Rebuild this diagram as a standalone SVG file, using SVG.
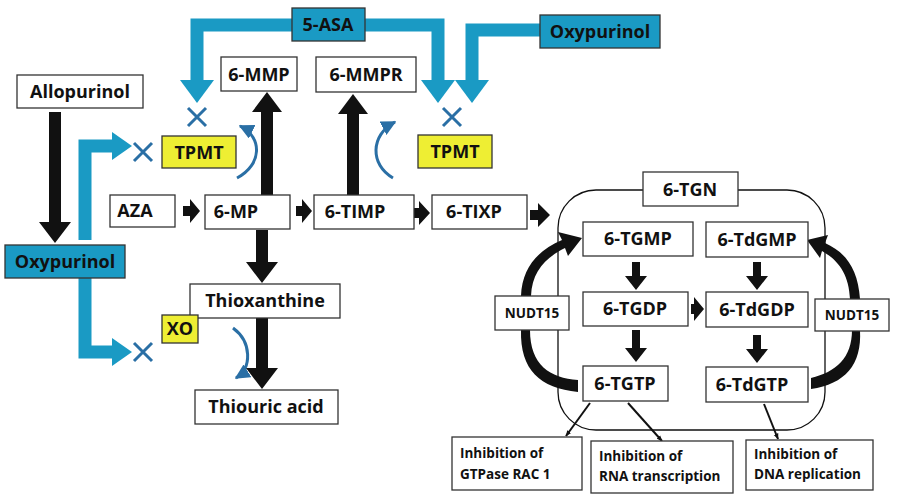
<svg xmlns="http://www.w3.org/2000/svg" width="900" height="495" viewBox="0 0 900 495">
<style>
.n rect{fill:#fff;stroke:#333;stroke-width:1.3}
.b rect{fill:#1a9ac4;stroke:#333;stroke-width:1.3}
.y rect{fill:#eeee33;stroke:#333;stroke-width:1.3}
text{font-family:"Open Sans","DejaVu Sans",sans-serif;font-weight:bold;fill:#111;font-size:18px}
.s{font-size:13.5px}
.blue{fill:none;stroke:#1a9ac4;stroke-width:13}
.x{stroke:#2a6fa5;stroke-width:3}
.arc{fill:none;stroke:#2a6fa5;stroke-width:3}
.thin{stroke:#111;stroke-width:2;fill:none}
</style>
<defs>
<marker id="ah" viewBox="0 0 10 10" refX="9" refY="5" markerWidth="5" markerHeight="5" orient="auto"><path d="M0,0L10,5L0,10z" fill="#2a6fa5"/></marker>
<marker id="th" viewBox="0 0 10 10" refX="9" refY="5" markerWidth="6" markerHeight="6" orient="auto" markerUnits="userSpaceOnUse"><path d="M0,1L10,5L0,9z" fill="#111"/></marker>
</defs>
<g id="connectors">
<path class="blue" d="M292,25H197V80"/><path d="M180,80H214L197,103z" fill="#1a9ac4"/>
<path class="blue" d="M365,25H438V80"/><path d="M421,80H455L438,103z" fill="#1a9ac4"/>
<path class="blue" d="M540,30H472V80"/><path d="M455,80H489L472,103z" fill="#1a9ac4"/>
<path class="blue" d="M85,240V146H112"/><path d="M112,132V160L132,146z" fill="#1a9ac4"/>
<path class="blue" d="M85,278V352H112"/><path d="M112,338V366L132,352z" fill="#1a9ac4"/>
<path class="x" d="M188,108L206,126M206,108L188,126"/>
<path class="x" d="M443,108L461,126M461,108L443,126"/>
<path class="x" d="M134,143L152,161M152,143L134,161"/>
<path class="x" d="M134,343L152,361M152,343L134,361"/>
<path class="arc" d="M237,178C262,165 263,137 240,126" marker-end="url(#ah)"/>
<path class="arc" d="M393,178C370,165 370,135 395,122" marker-end="url(#ah)"/>
<path class="arc" d="M233,328C252,342 252,368 236,378" marker-end="url(#ah)"/>
<path d="M49,112H61V222H71L55,243L39,222H49z" fill="#111"/>
<path d="M261,195V112H252L267,92L282,112H273V195z" fill="#111"/>
<path d="M347,195V114H338L353,94L368,114H359V195z" fill="#111"/>
<path d="M256,230H268V262H278L262,283L246,262H256z" fill="#111"/>
<path d="M256,318H268V368H278L262,389L246,368H256z" fill="#111"/>
<path d="M183,206H190V199L200,211L190,223V216H183z" fill="#111"/>
<path d="M296,206H302V199L312,211L302,223V216H296z" fill="#111"/>
<path d="M412,208H419V201L430,213L419,225V218H412z" fill="#111"/>
<path d="M530,210H538V203L550,215L538,227V220H530z" fill="#111"/>
<path d="M632,262H640V276H647L636,290L625,276H632z" fill="#111"/>
<path d="M632,330H640V348H647L636,362L625,348H632z" fill="#111"/>
<path d="M753,262H761V276H768L757,290L746,276H753z" fill="#111"/>
<path d="M753,335H761V349H768L757,363L746,349H753z" fill="#111"/>
<path d="M691,304H694V297L704,309L694,321V314H691z" fill="#111"/>
<path d="M578,392C540,388 520,370 521,330 L530,330C530,365 550,378 578,380z" fill="#111"/>
<path d="M521,296C522,268 538,250 562,240L558,232L582,238L568,256L565,248C545,258 532,272 531,296z" fill="#111"/>
<path d="M811,389C845,384 862,365 860,330L852,330C852,358 836,372 811,378z" fill="#111"/>
<path d="M860,299C858,268 845,252 825,243L828,235L807,240L820,258L822,251C838,260 849,274 850,299z" fill="#111"/>
<path class="thin" d="M590,403L566,436" marker-end="url(#th)"/>
<path class="thin" d="M628,403L662,441" marker-end="url(#th)"/>
<path class="thin" d="M764,404L778,439" marker-end="url(#th)"/>
</g>
<g id="tgn"><rect x="558" y="190" width="267" height="240" rx="38" fill="none" stroke="#111" stroke-width="1.3"/></g>
<g id="tgn-label" class="n"><rect x="643" y="172" width="95" height="34"/><text x="690" y="196" text-anchor="middle">6-TGN</text></g>
<g id="asa" class="b"><rect x="292" y="8" width="73" height="33"/><text x="328" y="31" text-anchor="middle">5-ASA</text></g>
<g id="oxy-top" class="b"><rect x="540" y="15" width="120" height="33"/><text x="600" y="38" text-anchor="middle">Oxypurinol</text></g>
<g id="allo" class="n"><rect x="17" y="75" width="126" height="33"/><text x="80" y="98" text-anchor="middle">Allopurinol</text></g>
<g id="oxy-left" class="b"><rect x="5" y="245" width="120" height="33"/><text x="65" y="268" text-anchor="middle">Oxypurinol</text></g>
<g id="mmp" class="n"><rect x="221" y="57" width="76" height="34"/><text x="259" y="81" text-anchor="middle">6-MMP</text></g>
<g id="mmpr" class="n"><rect x="316" y="57" width="100" height="35"/><text x="366" y="81" text-anchor="middle">6-MMPR</text></g>
<g id="tpmt1" class="y"><rect x="162" y="136" width="74" height="32"/><text x="199" y="159" text-anchor="middle">TPMT</text></g>
<g id="tpmt2" class="y"><rect x="418" y="135" width="74" height="33"/><text x="455" y="158" text-anchor="middle">TPMT</text></g>
<g id="aza" class="n"><rect x="110" y="195" width="65" height="32"/><text x="135" y="217" text-anchor="middle">AZA</text></g>
<g id="mp" class="n"><rect x="205" y="195" width="85" height="34"/><text x="236" y="218" text-anchor="middle">6-MP</text></g>
<g id="timp" class="n"><rect x="314" y="195" width="100" height="34"/><text x="355" y="218" text-anchor="middle">6-TIMP</text></g>
<g id="tixp" class="n"><rect x="432" y="195" width="95" height="34"/><text x="474" y="218" text-anchor="middle">6-TIXP</text></g>
<g id="thiox" class="n"><rect x="190" y="284" width="150" height="34"/><text x="265" y="307" text-anchor="middle">Thioxanthine</text></g>
<g id="xo" class="y"><rect x="162" y="315" width="36" height="28"/><text x="180" y="335" text-anchor="middle">XO</text></g>
<g id="thiouric" class="n"><rect x="195" y="390" width="143" height="34"/><text x="266" y="413" text-anchor="middle">Thiouric acid</text></g>
<g id="tgmp" class="n"><rect x="583" y="222" width="110" height="34"/><text x="638" y="245" text-anchor="middle">6-TGMP</text></g>
<g id="tdgmp" class="n"><rect x="706" y="222" width="102" height="35"/><text x="757" y="246" text-anchor="middle">6-TdGMP</text></g>
<g id="tgdp" class="n"><rect x="583" y="292" width="105" height="34"/><text x="635" y="315" text-anchor="middle">6-TGDP</text></g>
<g id="tdgdp" class="n"><rect x="706" y="292" width="102" height="35"/><text x="757" y="316" text-anchor="middle">6-TdGDP</text></g>
<g id="tgtp" class="n"><rect x="583" y="366" width="85" height="35"/><text x="625" y="390" text-anchor="middle">6-TGTP</text></g>
<g id="tdgtp" class="n"><rect x="706" y="367" width="102" height="35"/><text x="752" y="391" text-anchor="middle">6-TdGTP</text></g>
<g id="nudt1" class="n"><rect x="495" y="296" width="74" height="34"/><text x="532" y="318" text-anchor="middle" class="s">NUDT15</text></g>
<g id="nudt2" class="n"><rect x="815" y="299" width="74" height="32"/><text x="852" y="320" text-anchor="middle" class="s">NUDT15</text></g>
<g id="inh1" class="n"><rect x="452" y="437" width="130" height="53"/><text x="460" y="458" class="s">Inhibition of</text><text x="460" y="479" class="s">GTPase RAC 1</text></g>
<g id="inh2" class="n"><rect x="591" y="441" width="142" height="52"/><text x="599" y="461" class="s">Inhibition of</text><text x="599" y="481" class="s">RNA transcription</text></g>
<g id="inh3" class="n"><rect x="746" y="440" width="127" height="50"/><text x="754" y="459" class="s">Inhibition of</text><text x="754" y="479" class="s">DNA replication</text></g>
</svg>
